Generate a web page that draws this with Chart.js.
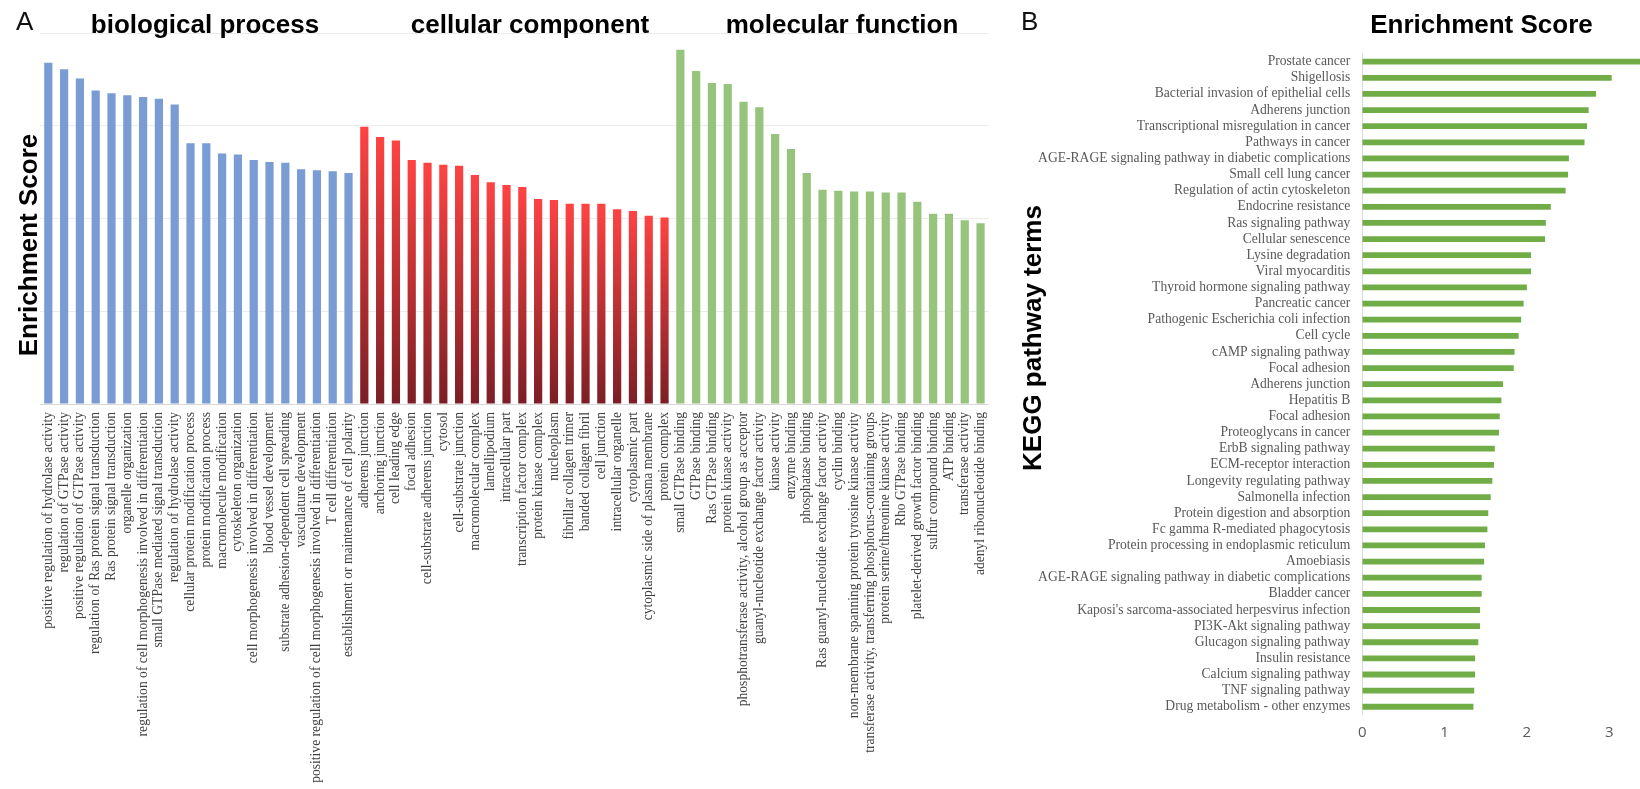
<!DOCTYPE html>
<html>
<head>
<meta charset="utf-8">
<title>GO and KEGG enrichment</title>
<script src="https://cdn.jsdelivr.net/npm/chart.js@4.4.1/dist/chart.umd.min.js"></script>
<style>
  html, body { margin: 0; padding: 0; background: #ffffff; }
  #wrap { position: relative; width: 1640px; height: 789px; overflow: hidden; }
  #goChart { position: absolute; left: 0; top: 0; }
  #keggChart { position: absolute; left: 1005px; top: 0; }
</style>
</head>
<body>
<div id="wrap">
  <canvas id="goChart" width="1005" height="789"></canvas>
  <canvas id="keggChart" width="635" height="789"></canvas>
</div>
<script>
// ---- GO terms: biological process ----
const bpTerms = [
  'positive regulation of hydrolase activity',
  'regulation of GTPase activity',
  'positive regulation of GTPase activity',
  'regulation of Ras protein signal transduction',
  'Ras protein signal transduction',
  'organelle organization',
  'regulation of cell morphogenesis involved in differentiation',
  'small GTPase mediated signal transduction',
  'regulation of hydrolase activity',
  'cellular protein modification process',
  'protein modification process',
  'macromolecule modification',
  'cytoskeleton organization',
  'cell morphogenesis involved in differentiation',
  'blood vessel development',
  'substrate adhesion-dependent cell spreading',
  'vasculature development',
  'positive regulation of cell morphogenesis involved in differentiation',
  'T cell differentiation',
  'establishment or maintenance of cell polarity'
];
const bpScores = [3.68, 3.61, 3.51, 3.38, 3.35, 3.33, 3.31, 3.29, 3.23, 2.81,
                  2.81, 2.70, 2.69, 2.63, 2.61, 2.60, 2.53, 2.52, 2.51, 2.49];

// ---- GO terms: cellular component ----
const ccTerms = [
  'adherens junction',
  'anchoring junction',
  'cell leading edge',
  'focal adhesion',
  'cell-substrate adherens junction',
  'cytosol',
  'cell-substrate junction',
  'macromolecular complex',
  'lamellipodium',
  'intracellular part',
  'transcription factor complex',
  'protein kinase complex',
  'nucleoplasm',
  'fibrillar collagen trimer',
  'banded collagen fibril',
  'cell junction',
  'intracellular organelle',
  'cytoplasmic part',
  'cytoplasmic side of plasma membrane',
  'protein complex'
];
const ccScores = [2.99, 2.88, 2.84, 2.63, 2.60, 2.58, 2.57, 2.47, 2.39, 2.36,
                  2.34, 2.21, 2.20, 2.16, 2.16, 2.16, 2.10, 2.08, 2.03, 2.01];

// ---- GO terms: molecular function ----
const mfTerms = [
  'small GTPase binding',
  'GTPase binding',
  'Ras GTPase binding',
  'protein kinase activity',
  'phosphotransferase activity, alcohol group as acceptor',
  'guanyl-nucleotide exchange factor activity',
  'kinase activity',
  'enzyme binding',
  'phosphatase binding',
  'Ras guanyl-nucleotide exchange factor activity',
  'cyclin binding',
  'non-membrane spanning protein tyrosine kinase activity',
  'transferase activity, transferring phosphorus-containing groups',
  'protein serine/threonine kinase activity',
  'Rho GTPase binding',
  'platelet-derived growth factor binding',
  'sulfur compound binding',
  'ATP binding',
  'transferase activity',
  'adenyl ribonucleotide binding'
];
const mfScores = [3.82, 3.59, 3.46, 3.45, 3.26, 3.20, 2.91, 2.75, 2.49, 2.31,
                  2.30, 2.29, 2.29, 2.28, 2.28, 2.18, 2.05, 2.05, 1.98, 1.95];

// ---- KEGG pathways ----
const keggTerms = [
  'Prostate cancer',
  'Shigellosis',
  'Bacterial invasion of epithelial cells',
  'Adherens junction',
  'Transcriptional misregulation in cancer',
  'Pathways in cancer',
  'AGE-RAGE signaling pathway in diabetic complications',
  'Small cell lung cancer',
  'Regulation of actin cytoskeleton',
  'Endocrine resistance',
  'Ras signaling pathway',
  'Cellular senescence',
  'Lysine degradation',
  'Viral myocarditis',
  'Thyroid hormone signaling pathway',
  'Pancreatic cancer',
  'Pathogenic Escherichia coli infection',
  'Cell cycle',
  'cAMP signaling pathway',
  'Focal adhesion',
  'Adherens junction',
  'Hepatitis B',
  'Focal adhesion',
  'Proteoglycans in cancer',
  'ErbB signaling pathway',
  'ECM-receptor interaction',
  'Longevity regulating pathway',
  'Salmonella infection',
  'Protein digestion and absorption',
  'Fc gamma R-mediated phagocytosis',
  'Protein processing in endoplasmic reticulum',
  'Amoebiasis',
  'AGE-RAGE signaling pathway in diabetic complications',
  'Bladder cancer',
  "Kaposi's sarcoma-associated herpesvirus infection",
  'PI3K-Akt signaling pathway',
  'Glucagon signaling pathway',
  'Insulin resistance',
  'Calcium signaling pathway',
  'TNF signaling pathway',
  'Drug metabolism - other enzymes'
];
const keggScores = [3.45, 3.03, 2.84, 2.75, 2.73, 2.70, 2.51, 2.50, 2.47, 2.29,
                    2.23, 2.22, 2.05, 2.05, 2.00, 1.96, 1.93, 1.90, 1.85, 1.84,
                    1.71, 1.69, 1.67, 1.66, 1.61, 1.60, 1.58, 1.56, 1.53, 1.52,
                    1.49, 1.48, 1.45, 1.45, 1.43, 1.43, 1.41, 1.37, 1.37, 1.36,
                    1.35];
const keggTicks = [0, 1, 2, 3];

// ---- styling ----
const BP_BLUE = '#7a9cd4';
const CC_TOP = '#ff4343';
const CC_BOTTOM = '#7a1f24';
const MF_GREEN = '#97c47d';
const KEGG_GREEN = '#70ad47';
const SERIF = '"Liberation Serif", "Times New Roman", serif';
const SANS = '"Liberation Sans", Arial, sans-serif';

// Free-standing headings and rotated axis titles, drawn after the chart.
const headingPlugin = {
  id: 'panelHeadings',
  afterDraw(chart, args, opts) {
    const ctx = chart.ctx;
    for (const h of opts.items || []) {
      ctx.save();
      ctx.font = h.font;
      ctx.fillStyle = h.color || '#000';
      ctx.textAlign = h.align || 'left';
      ctx.textBaseline = 'alphabetic';
      ctx.translate(h.x, h.y);
      if (h.rotate) ctx.rotate(h.rotate);
      ctx.fillText(h.text, 0, 0);
      ctx.restore();
    }
  }
};

// ---- Panel A: GO enrichment ----
const goLabels = bpTerms.concat(ccTerms, mfTerms);
const goScores = bpScores.concat(ccScores, mfScores);
const nBP = bpScores.length, nCC = ccScores.length;

// Blue for BP, vertical red gradient (per bar) for CC, green for MF.
function goBarFill(c) {
  const i = c.dataIndex;
  if (i < nBP) return BP_BLUE;
  if (i >= nBP + nCC) return MF_GREEN;
  const chart = c.chart;
  const y = chart.scales.y;
  if (!y || !chart.chartArea) return CC_TOP;
  const top = y.getPixelForValue(c.raw);
  const base = y.getPixelForValue(0);
  const g = chart.ctx.createLinearGradient(0, top, 0, base);
  g.addColorStop(0, CC_TOP);
  g.addColorStop(1, CC_BOTTOM);
  return g;
}

new Chart(document.getElementById('goChart'), {
  type: 'bar',
  data: {
    labels: goLabels,
    datasets: [{
      data: goScores,
      backgroundColor: goBarFill,
      borderWidth: 0,
      barPercentage: 0.52,
      categoryPercentage: 1.0
    }]
  },
  options: {
    responsive: false,
    animation: false,
    layout: { padding: { top: 33, right: 14.7, bottom: 0, left: 0 } },
    plugins: {
      legend: { display: false },
      tooltip: { enabled: false },
      panelHeadings: {
        items: [
          { text: 'A', x: 16, y: 29.5, font: '26px ' + SANS, color: '#111' },
          { text: 'biological process', x: 205, y: 33, align: 'center', font: 'bold 26px ' + SANS },
          { text: 'cellular component', x: 530, y: 33, align: 'center', font: 'bold 26px ' + SANS },
          { text: 'molecular function', x: 842, y: 33, align: 'center', font: 'bold 26px ' + SANS },
          { text: 'Enrichment Score', x: 36.5, y: 245, align: 'center', rotate: -Math.PI / 2, font: 'bold 26px ' + SANS }
        ]
      }
    },
    scales: {
      x: {
        grid: { display: false, drawTicks: false },
        border: { display: true, color: '#d9d9d9' },
        ticks: {
          autoSkip: false,
          maxRotation: 90,
          minRotation: 90,
          padding: 8,
          color: '#404040',
          font: { family: SERIF, size: 13.6 }
        },
        afterFit(scale) { scale.height = 385; }
      },
      y: {
        min: 0,
        max: 4,
        ticks: { display: false, stepSize: 1 },
        grid: { color: '#ebebeb', drawTicks: false },
        border: { display: false },
        afterFit(scale) { scale.width = 40.4; }
      }
    }
  },
  plugins: [headingPlugin]
});

// ---- Panel B: KEGG pathway enrichment ----
new Chart(document.getElementById('keggChart'), {
  type: 'bar',
  data: {
    labels: keggTerms,
    datasets: [{
      data: keggScores,
      backgroundColor: KEGG_GREEN,
      borderWidth: 0,
      barPercentage: 0.36,
      categoryPercentage: 1.0
    }]
  },
  options: {
    indexAxis: 'y',
    responsive: false,
    animation: false,
    layout: { padding: { top: 53.6, right: 0, bottom: 0, left: 0 } },
    plugins: {
      legend: { display: false },
      tooltip: { enabled: false },
      panelHeadings: {
        items: [
          { text: 'B', x: 16, y: 30, font: '26px ' + SANS, color: '#111' },
          { text: 'Enrichment Score', x: 476.5, y: 33, align: 'center', font: 'bold 26px ' + SANS },
          { text: 'KEGG pathway terms', x: 36, y: 338, align: 'center', rotate: -Math.PI / 2, font: 'bold 26px ' + SANS }
        ]
      }
    },
    scales: {
      x: {
        min: 0,
        max: 3.374,
        grid: { display: false, drawTicks: false },
        border: { display: false },
        ticks: {
          stepSize: 1,
          includeBounds: false,
          padding: 9,
          color: '#595959',
          font: { family: '"Open Sans", ' + SANS, size: 15 },
          callback: (v) => keggTicks.includes(v) ? String(v) : ''
        },
        afterFit(scale) { scale.height = 74.2; }
      },
      y: {
        grid: { color: 'transparent', drawTicks: false },
        border: { display: true, color: '#d9d9d9' },
        ticks: {
          autoSkip: false,
          padding: 12,
          color: '#595959',
          font: { family: SERIF, size: 13.6 }
        },
        afterFit(scale) { scale.width = 357.3; }
      }
    }
  },
  plugins: [headingPlugin]
});
</script>
</body>
</html>
